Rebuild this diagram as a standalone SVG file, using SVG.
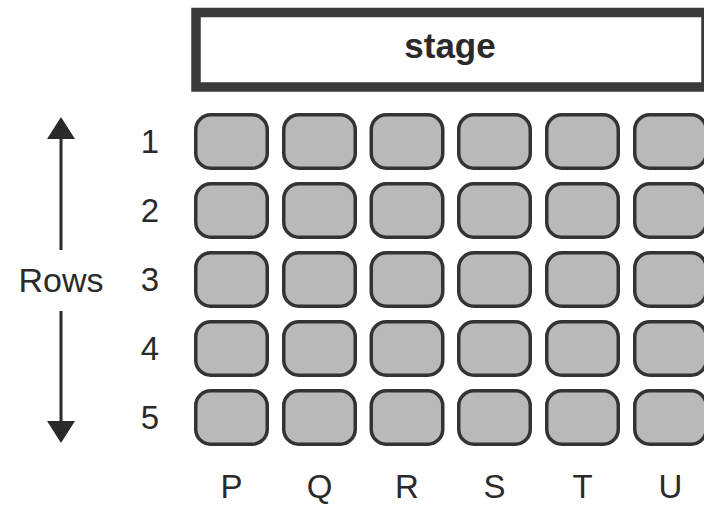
<svg xmlns="http://www.w3.org/2000/svg" width="704" height="506" viewBox="0 0 704 506">
<defs>
<style>
.seat{fill:#b7bab8;stroke:#333;stroke-width:3.5}
.lbl{font-family:"Liberation Sans",Arial,sans-serif;font-size:33px;fill:#2a2a2a;text-anchor:middle}
.stage{fill:#fff;stroke:#3a3a3a;stroke-width:9.5}
</style>
<g id="s"><rect class="seat" x="1.75" y="1.75" width="71.5" height="53.5" rx="15" ry="15"/></g>
</defs>
<rect width="704" height="506" fill="#fff"/>
<g id="stage">
<rect class="stage" x="196" y="12.5" width="510" height="74.5"/>
<text x="450" y="58" style="font-family:'Liberation Sans',Arial,sans-serif;font-size:35px;font-weight:bold;fill:#2a2a2a;text-anchor:middle">stage</text>
</g>
<g id="connectors">
<line x1="61" y1="138" x2="61" y2="250" stroke="#2a2a2a" stroke-width="3"/>
<path d="M61,117L75,139L47,139z" fill="#2a2a2a"/>
<line x1="61" y1="311" x2="61" y2="423" stroke="#2a2a2a" stroke-width="3"/>
<path d="M61,443L75,421L47,421z" fill="#2a2a2a"/>
</g>
<g id="rows-label"><text class="lbl" x="61" y="292" style="font-size:34px">Rows</text></g>
<g id="row-numbers">
<text class="lbl" x="150" y="153">1</text>
<text class="lbl" x="150" y="222">2</text>
<text class="lbl" x="150" y="291">3</text>
<text class="lbl" x="150" y="360">4</text>
<text class="lbl" x="150" y="429">5</text>
</g>
<g id="col-letters">
<text class="lbl" x="231.5" y="498">P</text>
<text class="lbl" x="319.5" y="498">Q</text>
<text class="lbl" x="407" y="498">R</text>
<text class="lbl" x="494.5" y="498">S</text>
<text class="lbl" x="582.5" y="498">T</text>
<text class="lbl" x="670.5" y="498">U</text>
</g>
<g id="seats">
<g id="row1">
<use href="#s" x="194" y="113"/><use href="#s" x="282" y="113"/><use href="#s" x="369.5" y="113"/><use href="#s" x="457" y="113"/><use href="#s" x="545" y="113"/><use href="#s" x="633" y="113"/>
</g>
<g id="row2">
<use href="#s" x="194" y="182"/><use href="#s" x="282" y="182"/><use href="#s" x="369.5" y="182"/><use href="#s" x="457" y="182"/><use href="#s" x="545" y="182"/><use href="#s" x="633" y="182"/>
</g>
<g id="row3">
<use href="#s" x="194" y="251"/><use href="#s" x="282" y="251"/><use href="#s" x="369.5" y="251"/><use href="#s" x="457" y="251"/><use href="#s" x="545" y="251"/><use href="#s" x="633" y="251"/>
</g>
<g id="row4">
<use href="#s" x="194" y="320"/><use href="#s" x="282" y="320"/><use href="#s" x="369.5" y="320"/><use href="#s" x="457" y="320"/><use href="#s" x="545" y="320"/><use href="#s" x="633" y="320"/>
</g>
<g id="row5">
<use href="#s" x="194" y="389"/><use href="#s" x="282" y="389"/><use href="#s" x="369.5" y="389"/><use href="#s" x="457" y="389"/><use href="#s" x="545" y="389"/><use href="#s" x="633" y="389"/>
</g>
</g>
</svg>
